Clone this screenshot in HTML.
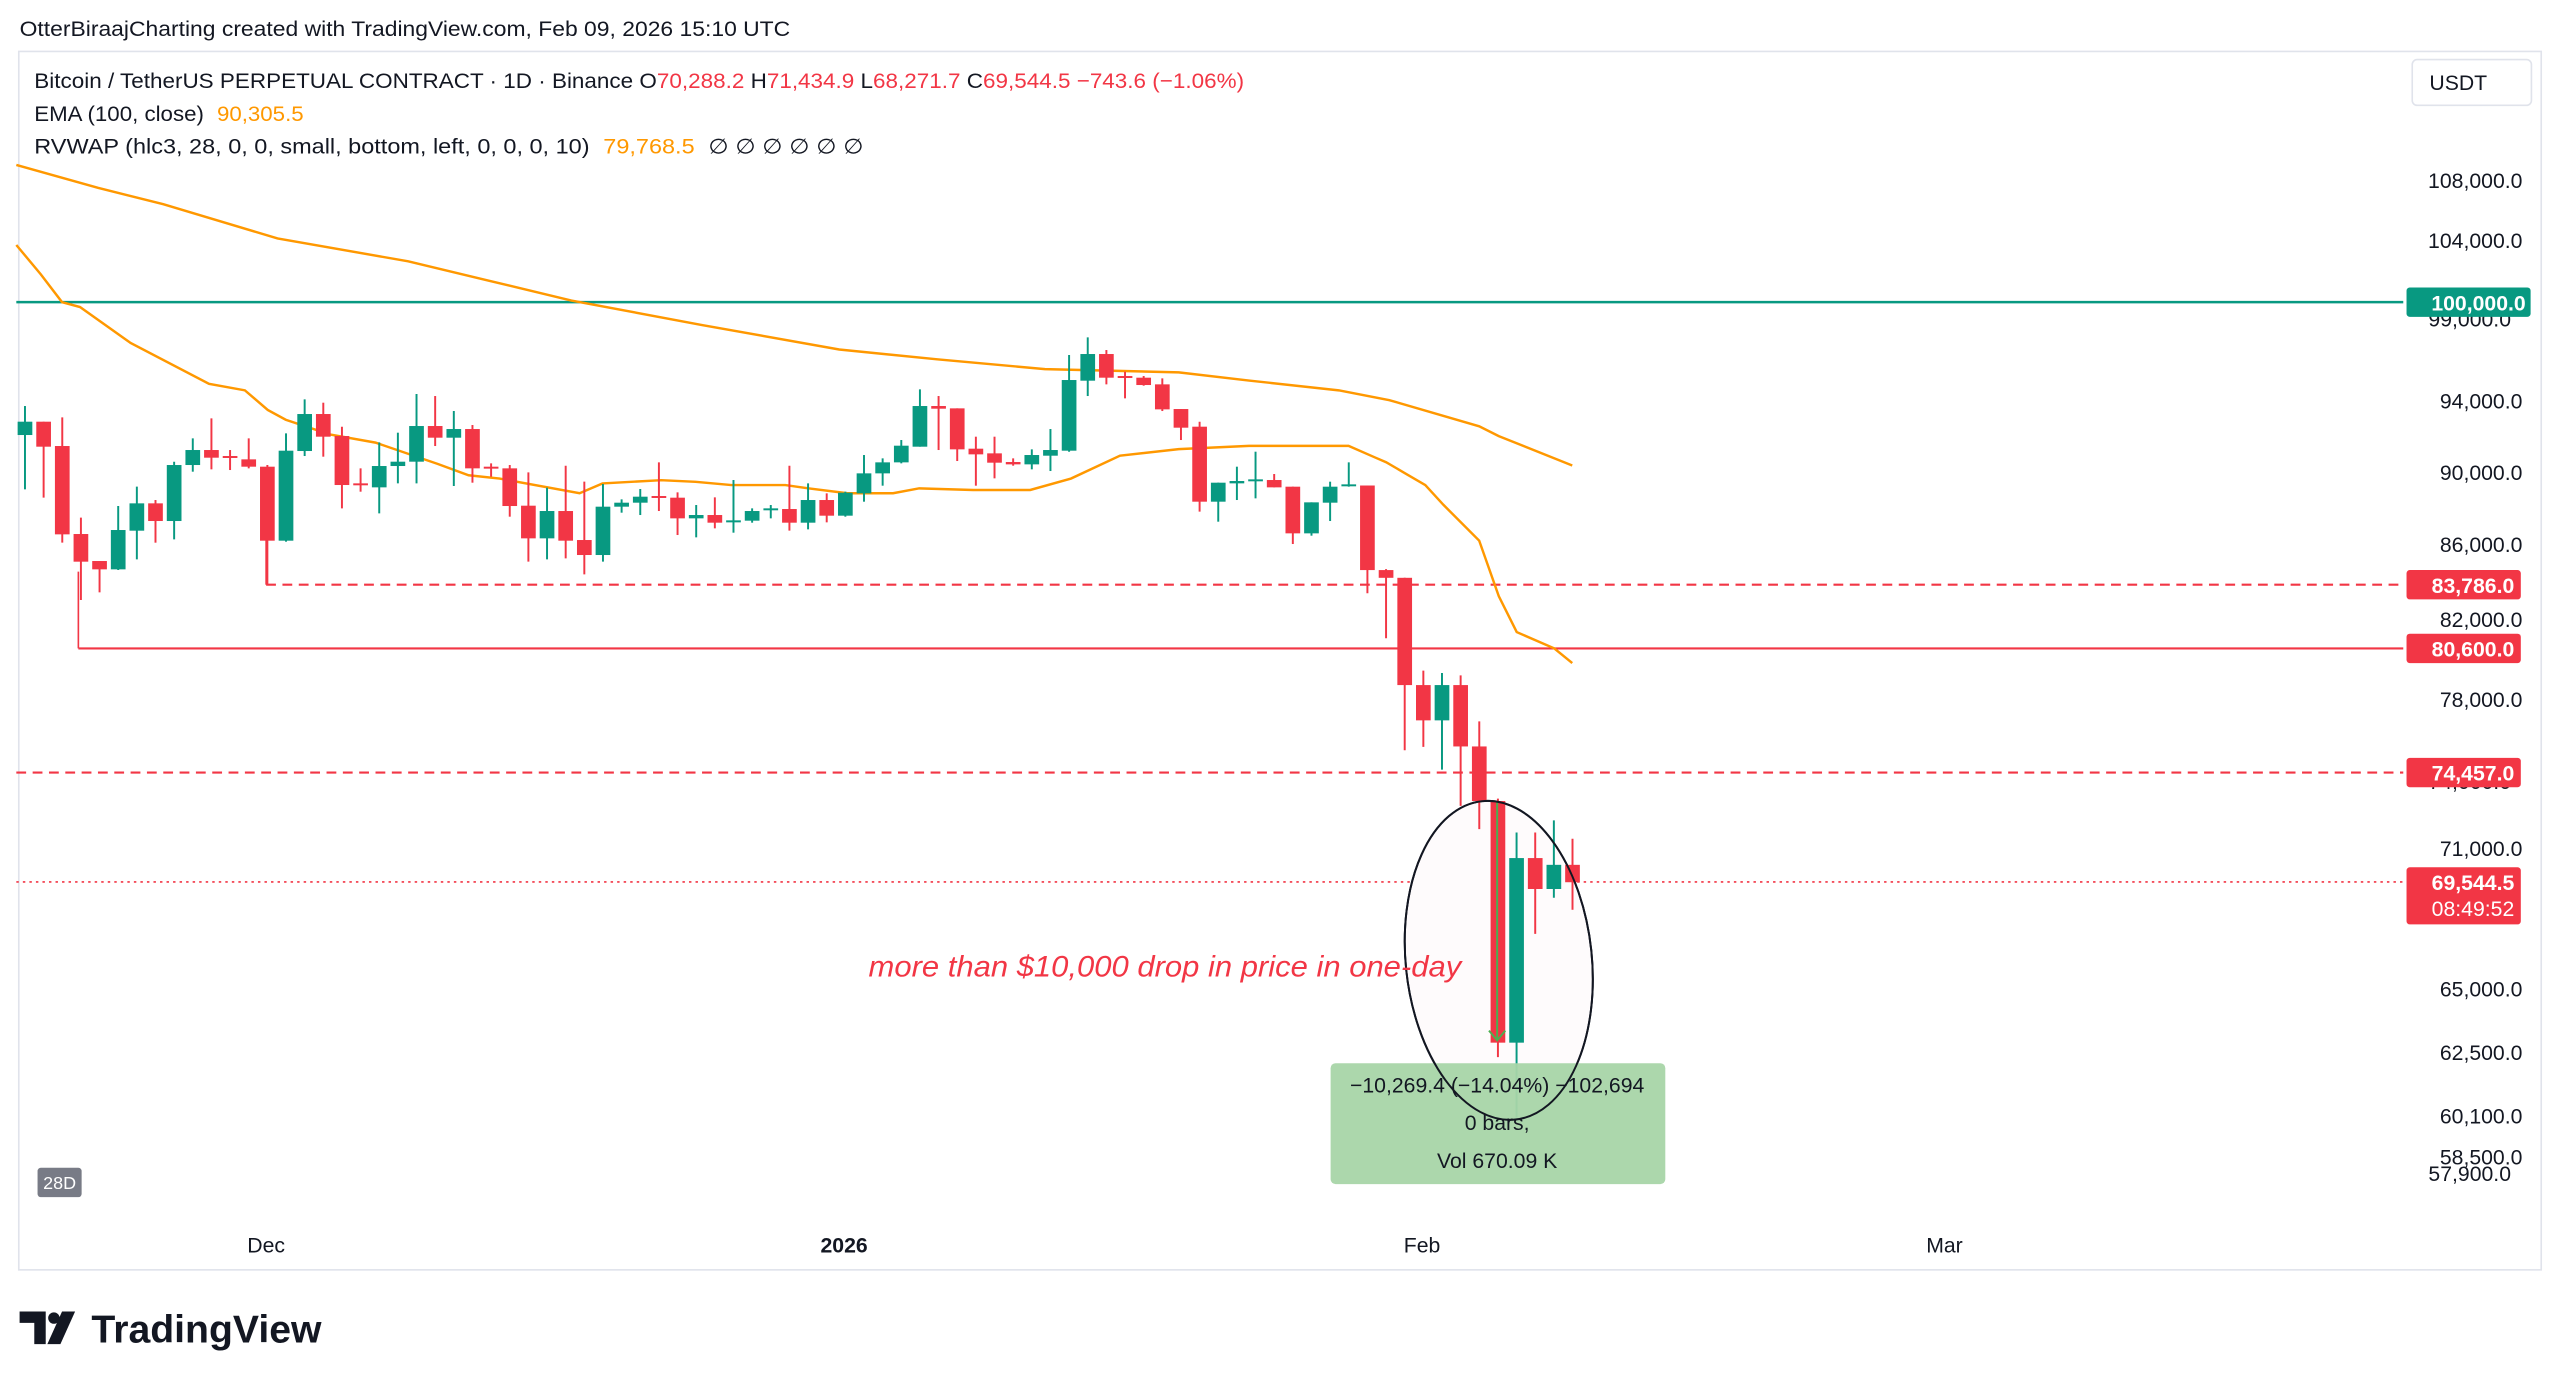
<!DOCTYPE html>
<html><head><meta charset="utf-8"><style>
html,body{margin:0;padding:0;background:#fff}
svg{display:block}
text{font-family:"Liberation Sans",sans-serif}
</style></head><body>
<svg id="c" width="2560" height="1385" viewBox="0 0 1568 848" preserveAspectRatio="none" xmlns="http://www.w3.org/2000/svg">
<rect width="1568" height="848" fill="#fff"/>
<text x="12" y="22" font-size="13" fill="#131722" textLength="472" lengthAdjust="spacingAndGlyphs">OtterBiraajCharting created with TradingView.com, Feb 09, 2026 15:10 UTC</text>
<rect x="11.5" y="31.5" width="1545" height="746" fill="none" stroke="#e0e3eb"/>
<g id="lines"></g>
<g id="candles"></g>
<g id="ov"></g>
<text x="21" y="54" font-size="13" fill="#131722" textLength="741" lengthAdjust="spacingAndGlyphs">Bitcoin / TetherUS PERPETUAL CONTRACT · 1D · Binance <tspan fill="#131722">O</tspan><tspan fill="#f23645">70,288.2</tspan> <tspan fill="#131722">H</tspan><tspan fill="#f23645">71,434.9</tspan> <tspan fill="#131722">L</tspan><tspan fill="#f23645">68,271.7</tspan> <tspan fill="#131722">C</tspan><tspan fill="#f23645">69,544.5 −743.6 (−1.06%)</tspan></text>
<text x="21" y="74" font-size="13" fill="#131722" textLength="165" lengthAdjust="spacingAndGlyphs">EMA (100, close) <tspan fill="#ff9800" dx="4">90,305.5</tspan></text>
<text x="21" y="94" font-size="13" fill="#131722" textLength="508" lengthAdjust="spacingAndGlyphs">RVWAP (hlc3, 28, 0, 0, small, bottom, left, 0, 0, 0, 10) <tspan fill="#ff9800" dx="4">79,768.5</tspan> <tspan fill="#131722" dx="4">∅ ∅ ∅ ∅ ∅ ∅</tspan></text>
<rect x="1477.5" y="36.5" width="73" height="28" rx="3" fill="#fff" stroke="#e0e3eb"/>
<text x="1488" y="55" font-size="13" fill="#131722">USDT</text>
<g font-size="13" fill="#131722" text-anchor="end">
<text x="1545" y="115">108,000.0</text><text x="1545" y="152">104,000.0</text><text x="1538" y="200">99,000.0</text>
<text x="1545" y="250">94,000.0</text><text x="1545" y="294">90,000.0</text><text x="1545" y="338">86,000.0</text>
<text x="1545" y="384">82,000.0</text><text x="1545" y="433">78,000.0</text><text x="1538" y="483">74,000.0</text>
<text x="1545" y="524">71,000.0</text><text x="1545" y="610">65,000.0</text><text x="1545" y="649">62,500.0</text>
<text x="1545" y="688">60,100.0</text><text x="1538" y="723">57,900.0</text><text x="1545" y="713">58,500.0</text>
</g>
<g font-size="13" fill="#fff" text-anchor="end" font-weight="bold">
<rect x="1474" y="176" width="76" height="18" rx="2" fill="#089981"/><text x="1547" y="190">100,000.0</text>
<rect x="1474" y="349" width="70" height="18" rx="2" fill="#f23645"/><text x="1540" y="363">83,786.0</text>
<rect x="1474" y="388" width="70" height="18" rx="2" fill="#f23645"/><text x="1540" y="402">80,600.0</text>
<rect x="1474" y="464" width="70" height="18" rx="2" fill="#f23645"/><text x="1540" y="478">74,457.0</text>
<rect x="1474" y="531" width="70" height="35" rx="2" fill="#f23645"/><text x="1540" y="545">69,544.5</text><text x="1540" y="561" font-weight="normal">08:49:52</text>
</g>
<g font-size="13" fill="#131722" text-anchor="middle">
<text x="163" y="767">Dec</text><text x="517" y="767" font-weight="bold">2026</text><text x="871" y="767">Feb</text><text x="1191" y="767">Mar</text>
</g>
<rect x="23" y="715" width="27" height="18" rx="2" fill="#787b86"/><text x="36.5" y="728" font-size="11" fill="#fff" text-anchor="middle">28D</text>
<g fill="#131722"><path d="M12 803h16v20h-7v-13h-9z"/><circle cx="33" cy="807" r="3.5"/><path d="M38 803h8l-9 20h-8z"/></g>
<text x="56" y="822" font-size="24" font-weight="bold" fill="#131722">TradingView</text>
</svg>
<script>
var NS="http://www.w3.org/2000/svg";
function el(p,t,a){var e=document.createElementNS(NS,t);for(var k in a)e.setAttribute(k,a[k]);p.appendChild(e);return e;}
var L=document.getElementById('lines'),C=document.getElementById('candles'),O=document.getElementById('ov');
el(L,'line',{x1:10,x2:1472,y1:185,y2:185,stroke:'#089981','stroke-width':1.5});
el(L,'line',{x1:163,x2:1472,y1:358,y2:358,stroke:'#f23645','stroke-width':1.3,'stroke-dasharray':'6,4'});
el(L,'line',{x1:48,x2:1472,y1:397,y2:397,stroke:'#f23645','stroke-width':1.3});
el(L,'line',{x1:10,x2:1472,y1:473,y2:473,stroke:'#f23645','stroke-width':1.3,'stroke-dasharray':'6,4'});
el(L,'line',{x1:10,x2:1472,y1:540,y2:540,stroke:'#f23645','stroke-width':1,'stroke-dasharray':'1.5,2.5'});
el(L,'line',{x1:163,x2:163,y1:330,y2:358,stroke:'#f23645','stroke-width':1});
el(L,'line',{x1:48,x2:48,y1:350,y2:397,stroke:'#f23645','stroke-width':1});
el(L,'ellipse',{cx:918,cy:588,rx:57,ry:98,fill:'#fefbfc',stroke:'#131722','stroke-width':1.2,transform:'rotate(-6 918 588)'});
var ema=[[10,101],[60,115],[100,125],[170,146],[250,160],[300,172],[350,184],[430,199],[514,214],[574,220],[640,226],[722,228],[765,233],[820,239],[851,245],[906,261],[918,267],[963,285]];
el(L,'polyline',{points:ema.map(function(p){return p.join(',')}).join(' '),fill:'none',stroke:'#ff9800','stroke-width':1.5});
var rv=[[10,150],[25,168],[38,185],[49,188],[80,210],[128,235],[150,239],[164,251],[175,257],[202,266],[230,271],[268,284],[287,291],[306,293],[355,302],[369,296],[405,294],[426,295],[448,297],[481,297],[495,299],[519,302],[547,302],[563,299],[596,300],[631,300],[656,293],[686,279],[722,275],[765,273],[826,273],[842,280],[849,283],[861,290],[873,297],[884,309],[906,331],[918,365],[929,387],[952,397],[963,406]];
el(L,'polyline',{points:rv.map(function(p){return p.join(',')}).join(' '),fill:'none',stroke:'#ff9800','stroke-width':1.5});
var z1=[[1,365,405,318,568],[0,365,440,365,593],[0,438,703,352,728],[0,702,785,653,900],[0,783,808,783,877],[1,690,808,618,810],[1,610,692,560,778],[0,610,663,600,728],[1,495,663,485,718],[1,450,495,415,515],[0,450,473,355,508],[0,468,473,450,510],[0,478,500,415,505],[0,500,722,495,855],[1,452,722,400,725],[1,342,453,298,468],[0,342,410,308,470],[0,408,555,380,625],[0,550,555,505,575],[1,498,562,427,640],[1,485,498,398,550],[1,378,485,282,550],[0,378,413,288,438],[1,387,413,333,558],[0,387,505,375,548],[0,500,505,490,530],[0,505,618,495,650],[0,617,715,517,785],[1,633,715,563,778],[0,633,722,497,775],[0,720,765,545,823],[1,620,765,552,785],[1,608,620,598,638],[1,590,608,567,645],[0,588,593,487,633],[0,593,655,577,705],[1,645,655,615,712],[0,645,668,592,685],[1,661,667,540,698],[1,633,662,625,668],[1,625,628,615,655],[0,627,668,497,692],[1,600,668,550,688],[0,600,647,580,667],[1,578,647,575,650],[1,520,580,465,605],[1,487,520,475,557],[1,437,487,420,490],[1,318,440,268,440],[0,318,326,288,450],[0,325,448,325,483],[0,446,463,410,557],[0,460,488,410,535],[0,486,493,475,497],[1,465,493,448,508],[1,450,467,387,513],[1,240,452,165,455],[1,162,242,112,288],[0,162,233,150,253],[0,228,233,215,295],[0,233,255,228,257],[0,253,328,235,333],[0,327,383,327,420],[0,380,605,365,635],[1,548,605,548,665],[1,543,550,500,600],[1,538,541,455,595],[0,540,562,522,562],[0,560,700,560,732],[1,607,700,607,707],[1,560,608,545,663],[1,553,558,487,560]];
var z2=[[0,177,352,177,400],[0,352,368,350,493],[0,368,590,368,725],[0,590,663,560,718],[1,590,663,565,765],[0,590,717,570,840],[0,717,830,665,888],[0,830,1330,825,1360],[1,948,1330,895,1485],[0,948,1012,895,1105],[1,962,1012,870,1030],[0,962,998,908,1055]];
var data=[];
z1.forEach(function(d){data.push([d[0]].concat(d.slice(1).map(function(v){return 183.7+v/4.9})))});
z2.forEach(function(d){data.push([d[0]].concat(d.slice(1).map(function(v){return 244.9+v/3.38})))});
data.forEach(function(d,i){
 var x=15.3+i*11.42,col=d[0]?'#089981':'#f23645';
 el(C,'line',{x1:x,x2:x,y1:d[3],y2:d[4],stroke:col,'stroke-width':1.2});
 el(C,'rect',{x:x-4.5,y:d[1],width:9,height:Math.max(1.2,d[2]-d[1]),fill:col});
});
el(O,'line',{x1:917,x2:917,y1:491,y2:636,stroke:'#4caf50','stroke-width':1.2});
el(O,'polyline',{points:'912,631 917,637 922,631',fill:'none',stroke:'#4caf50','stroke-width':1.2});
el(O,'rect',{x:815,y:651,width:205,height:74,rx:3,fill:'#a8d5a8','fill-opacity':0.95});
var t=el(O,'text',{x:917,y:669,'font-size':13,fill:'#131722','text-anchor':'middle'});t.textContent='−10,269.4 (−14.04%) −102,694';
t=el(O,'text',{x:917,y:692,'font-size':13,fill:'#131722','text-anchor':'middle'});t.textContent='0 bars,';
t=el(O,'text',{x:917,y:715,'font-size':13,fill:'#131722','text-anchor':'middle'});t.textContent='Vol 670.09 K';
el(O,'ellipse',{cx:918,cy:588,rx:57,ry:98,fill:'none',stroke:'#131722','stroke-width':1.2,transform:'rotate(-6 918 588)'});
t=el(O,'text',{x:532,y:598,'font-size':18,fill:'#f23645','font-style':'italic',textLength:363,lengthAdjust:'spacingAndGlyphs'});t.textContent='more than $10,000 drop in price in one-day';
</script>
</body></html>
